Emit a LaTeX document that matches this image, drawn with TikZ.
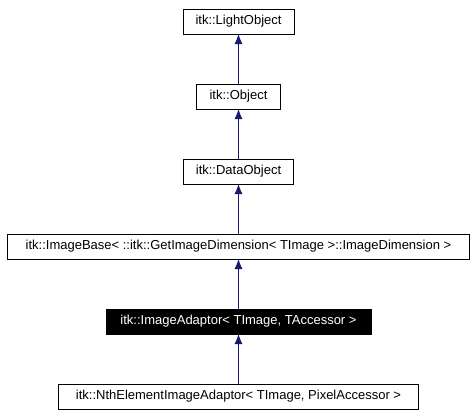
\documentclass[tikz,border=0pt]{standalone}
\usepackage{fontspec}
\setmainfont{Liberation Sans}
\usetikzlibrary{arrows.meta,positioning}
\definecolor{edgeblue}{HTML}{191970}
\tikzset{
  classbox/.style={
    draw=black,
    line width=0.8pt,
    fill=white,
    minimum height=25pt,
    inner sep=0pt,
    outer sep=0pt,
    align=center,
    font=\fontsize{13}{15}\selectfont
  },
  currentbox/.style={
    classbox,
    fill=black,
    text=white
  },
  inherit/.style={
    -{Latex[length=10pt,width=8pt]},
    line width=0.8pt,
    draw=edgeblue,
    fill=edgeblue
  }
}

\begin{document}
\begin{tikzpicture}[x=1pt,y=1pt,node distance=50pt]
\useasboundingbox (0,0) rectangle (476,-415);
\node[classbox, minimum width=111pt] (lightobj) at (238.5,-21.5) {itk::LightObject};
\node[classbox, minimum width=84pt, below=of lightobj] (object) {itk::Object};
\node[classbox, minimum width=110pt, below=of object] (dataobj) {itk::DataObject};
\node[classbox, minimum width=462pt, below=of dataobj] (imgbase) {itk::ImageBase< ::itk::GetImageDimension< TImage >::ImageDimension >};
\node[currentbox, minimum width=265pt, below=of imgbase] (adaptor) {itk::ImageAdaptor< TImage, TAccessor >};
\node[classbox, minimum width=360pt, below=of adaptor] (nthadaptor) {itk::NthElementImageAdaptor< TImage, PixelAccessor >};
\draw[inherit] (object) -- (lightobj);
\draw[inherit] (dataobj) -- (object);
\draw[inherit] (imgbase) -- (dataobj);
\draw[inherit] (adaptor) -- (imgbase);
\draw[inherit] (nthadaptor) -- (adaptor);
\end{tikzpicture}
\end{document}
